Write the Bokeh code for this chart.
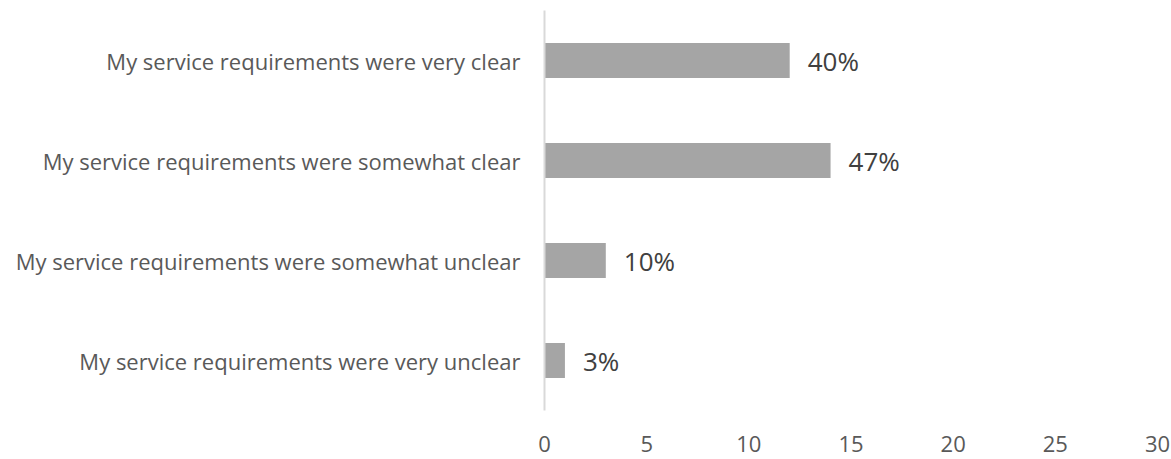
from bokeh.plotting import figure
from bokeh.models import ColumnDataSource, FactorRange, Range1d, FixedTicker
from bokeh.core.properties import value
from bokeh.embed import file_html
from bokeh.resources import INLINE

categories = [
    "My service requirements were very clear",
    "My service requirements were somewhat clear",
    "My service requirements were somewhat unclear",
    "My service requirements were very unclear",
]
counts = [12, 14, 3, 1]
pct_labels = ["40%", "47%", "10%", "3%"]
x_ticks = [0, 5, 10, 15, 20, 25, 30]

FONT = "Open Sans"

src = ColumnDataSource(dict(cat=categories, val=counts, lab=pct_labels))

p = figure(
    width=1171, height=459,
    y_range=FactorRange(factors=list(reversed(categories)), range_padding=0),
    x_range=Range1d(0, 30),
    output_backend="svg", toolbar_location=None,
    min_border_left=544, min_border_right=14, min_border_top=10, min_border_bottom=49,
)
p.hbar(y="cat", right="val", left=0, height=0.35, source=src,
       fill_color="#a5a5a5", line_color=None)
p.text(x="val", y="cat", text="lab", source=src, x_offset=18,
       text_align="left", text_baseline="middle", text_font=value(FONT),
       text_font_size="26px", text_color="#404040")

p.outline_line_color = None
p.background_fill_color = "white"
p.border_fill_color = "white"
p.xgrid.grid_line_color = None
p.ygrid.grid_line_color = None

xa = p.xaxis[0]
xa.ticker = FixedTicker(ticks=x_ticks)
xa.axis_line_color = None
xa.major_tick_line_color = None
xa.minor_tick_line_color = None
xa.major_tick_out = 0
xa.major_tick_in = 0
xa.major_label_standoff = 25
xa.major_label_text_font = FONT
xa.major_label_text_font_size = "22px"
xa.major_label_text_color = "#595959"

ya = p.yaxis[0]
ya.axis_line_color = "#d9d9d9"
ya.axis_line_width = 2
ya.major_tick_line_color = None
ya.minor_tick_line_color = None
ya.major_tick_out = 0
ya.major_tick_in = 0
ya.major_label_standoff = 24
ya.major_label_text_font = FONT
ya.major_label_text_font_size = "22px"
ya.major_label_text_color = "#595959"

open("out.html", "w").write(file_html(p, INLINE))
